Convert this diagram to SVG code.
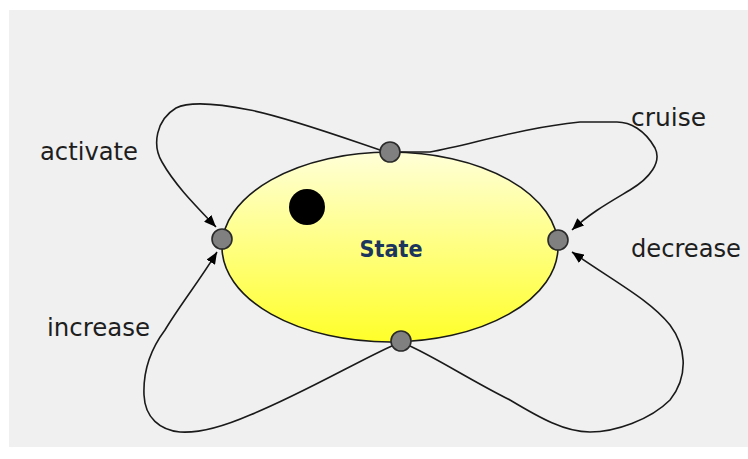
<svg xmlns="http://www.w3.org/2000/svg" width="748" height="459" viewBox="0 0 748 459">
  <defs>
    <linearGradient id="yg" x1="0" y1="0" x2="0" y2="1">
      <stop offset="0" stop-color="#ffffd8"/>
      <stop offset="1" stop-color="#ffff2a"/>
    </linearGradient>
    <marker id="arr" viewBox="0 0 12 10" refX="12" refY="5" markerWidth="12" markerHeight="10" markerUnits="userSpaceOnUse" orient="auto">
      <path d="M0,0 L12,5 L0,10 Z" fill="#000"/>
    </marker>
  </defs>
  <style>
    .lbl { font-family: "DejaVu Sans Condensed", "DejaVu Sans", sans-serif; font-size: 24px; fill: #1e1e1e; }
    .edge { fill: none; stroke: #1a1a1a; stroke-width: 1.6; }
    .port { fill: #808080; stroke: #2a2a2a; stroke-width: 1.6; }
  </style>
  <rect x="0" y="0" width="748" height="459" fill="#ffffff"/>
  <rect x="9" y="10" width="739" height="437" fill="#f0f0f0"/>

  <g id="state">
    <ellipse cx="390" cy="247" rx="168" ry="95" fill="url(#yg)" stroke="#1a1a1a" stroke-width="1.6"/>
    <circle cx="307" cy="207" r="18" fill="#000"/>
    <text x="391" y="257" text-anchor="middle" font-family="DejaVu Sans Condensed, DejaVu Sans, sans-serif" font-size="23" font-weight="bold" fill="#1c355e" textLength="63" lengthAdjust="spacingAndGlyphs">State</text>
  </g>

  <g id="connectors">
    <path class="edge" marker-end="url(#arr)" d="M383,151 C350,140 290,118 250,110 C215,103 190,101 176,108 C156,120 152,145 162,162 C175,185 195,205 216,227"/>
    <path class="edge" marker-end="url(#arr)" d="M398,152 L430,152 C470,145 520,128 580,122 L617,122 C630,122 645,130 655,148 C662,162 650,178 630,190 C610,202 590,213 572,230"/>
    <path class="edge" marker-end="url(#arr)" d="M394,345 C360,360 300,395 250,415 C220,428 195,433 180,432 C160,430 145,418 144,395 C143,370 150,350 165,330 C180,305 200,280 217,252"/>
    <path class="edge" marker-end="url(#arr)" d="M410,346 C440,360 470,380 510,400 C540,418 565,432 590,432 C615,432 650,420 670,400 C690,375 685,345 670,325 C650,300 615,282 572,252"/>
  </g>

  <g id="port-top"><circle class="port" cx="390" cy="152" r="10"/></g>
  <g id="port-left"><circle class="port" cx="222" cy="239" r="10"/></g>
  <g id="port-right"><circle class="port" cx="558" cy="240" r="10"/></g>
  <g id="port-bottom"><circle class="port" cx="401" cy="341" r="10"/></g>

  <g id="labels">
    <text class="lbl" x="40" y="160" textLength="98" lengthAdjust="spacingAndGlyphs">activate</text>
    <text class="lbl" x="631" y="126" textLength="75" lengthAdjust="spacingAndGlyphs">cruise</text>
    <text class="lbl" x="631" y="257" textLength="110" lengthAdjust="spacingAndGlyphs">decrease</text>
    <text class="lbl" x="47" y="336" textLength="103" lengthAdjust="spacingAndGlyphs">increase</text>
  </g>
</svg>
